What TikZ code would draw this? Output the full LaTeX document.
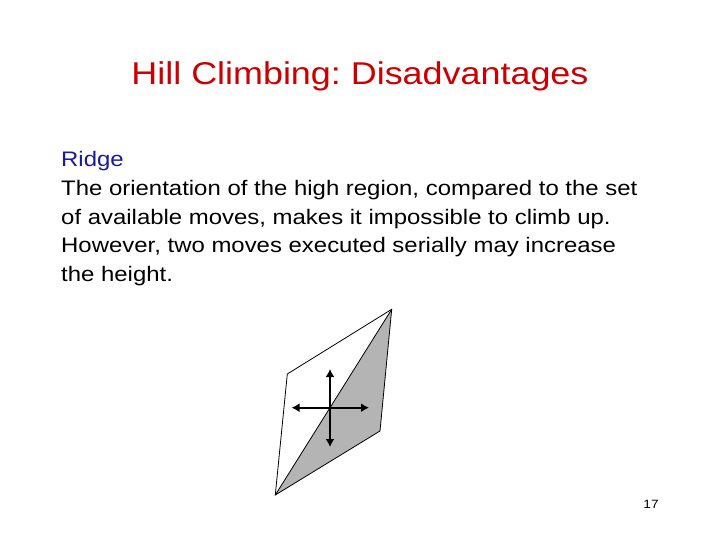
\documentclass[tikz,border=0pt]{standalone}
\usepackage{fontspec}
\setmainfont[FakeStretch=1.14]{Liberation Sans}
\usetikzlibrary{calc,arrows.meta}
\definecolor{titlered}{RGB}{204,0,0}
\definecolor{ridgeblue}{RGB}{26,26,160}
\definecolor{ridgegray}{RGB}{180,180,180}
\frenchspacing
\tikzset{
  x=1pt, y=-1pt,
  slidetitle/.style = {anchor=base, inner sep=0pt, text=titlered, font=\fontsize{31.5}{36}\selectfont},
  bodytext/.style = {anchor=base west, inner sep=0pt, align=left, font=\fontsize{21}{28.7}\selectfont},
  pagenum/.style = {anchor=base, inner sep=0pt, font=\fontsize{12}{14}\selectfont},
  ridgeedge/.style = {draw=black, line width=0.8pt, line join=miter},
  move/.style = {line width=2.4pt, {Latex[length=8pt,width=9pt]}-{Latex[length=8pt,width=9pt]}}
}

\begin{document}
\begin{tikzpicture}
	\useasboundingbox[fill=white] (0,0) rectangle (720,540);
	% title and text
	\node [slidetitle] (title) at (360,85) {Hill Climbing: Disadvantages};
	\node [bodytext, text=ridgeblue] (ridge) at (61,166.7) {Ridge};
	% base of a multi-line node is its last line
	\node [bodytext] (expl) at (61,281.6) {The orientation of the high region, compared to the set\\
		of available moves, makes it impossible to climb up.\\
		However, two moves executed serially may increase\\
		the height.};
	\node [pagenum] (page) at (651,508) {17};
	% the ridge
	\coordinate (top) at (391.7,309.3);
	\coordinate (lft) at (287.3,374);
	\coordinate (bot) at (275.3,495);
	\coordinate (rgt) at (380,431);
	\fill [ridgegray] (top) -- (rgt) -- (bot) -- cycle;
	\draw [ridgeedge] (top) -- (lft) -- (bot) -- (rgt) -- cycle;
	\draw [ridgeedge] (top) -- (bot);
	% available moves
	\coordinate (up) at (330,369);
	\coordinate (down) at (330,447);
	\coordinate (west) at (291.5,407.7);
	\coordinate (east) at (369,407.7);
	\draw [move] (up) -- (down);
	\draw [move] (west) -- (east);
\end{tikzpicture}
\end{document}
